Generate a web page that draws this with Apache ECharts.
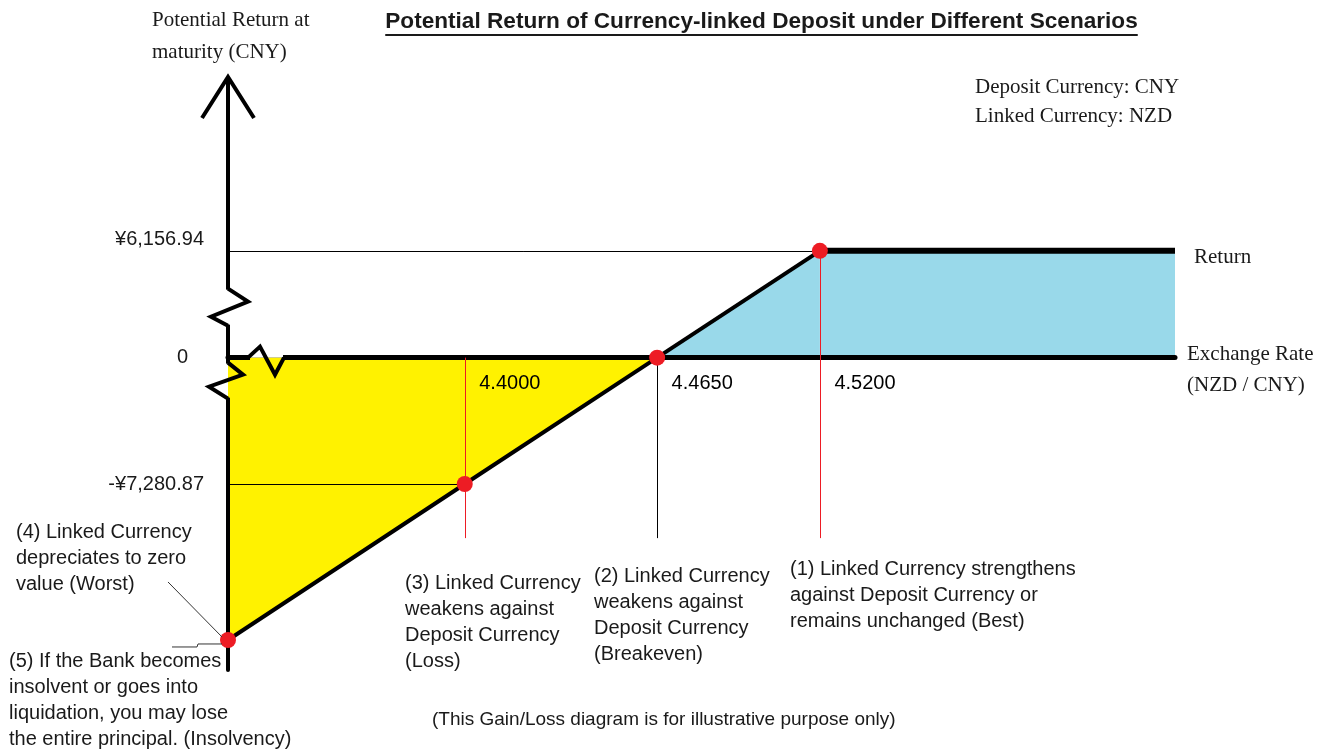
<!DOCTYPE html>
<html>
<head>
<meta charset="UTF-8">
<title>Potential Return of Currency-linked Deposit</title>
<script src="https://cdn.jsdelivr.net/npm/echarts@6.0.0/dist/echarts.min.js"></script>
<style>
  *{margin:0;padding:0;}
  html,body{background:#fff;}
  #main{width:1329px;height:751px;}
</style>
</head>
<body>
<div id="main"></div>
<script>
// exchange rate (NZD/CNY) -> return at maturity (CNY)
var lossRates   = [4.32, 4.40, 4.465];
var lossReturns = [-16270, -7280.87, 0];
var gainRates   = [4.465, 4.52];
var gainReturns = [0, 6156.94];
var capRates    = [4.52, 4.64];
var capReturns  = [6156.94, 6156.94];
// red dots: (1) best, (2) breakeven, (3) loss, (4) worst
var keyRates    = [4.52, 4.465, 4.40, 4.32];
var keyReturns  = [6156.94, 0, -7280.87, -16270];
var rateTicks   = [4.40, 4.465, 4.52];
var returnTicks = [-7280.87, 0, 6156.94];
var rateMin = 4.32, rateMax = 4.64;
var returnMin = -18000, returnMax = 16000;
var guideBottom = -10400;   // where the scenario drop lines end

var SANS = '"Liberation Sans", Arial, sans-serif';
var SERIF = '"Liberation Serif", "Times New Roman", serif';
var RED = '#ED1C24';
var INK = '#1a1a1a';

function zip(xs, ys) {
  var out = [];
  for (var i = 0; i < xs.length; i++) out.push([xs[i], ys[i]]);
  return out;
}

function fmtReturn(v) {
  if (v === 0) return '{zero|0}';
  var s = Math.abs(v).toLocaleString('en-US', {minimumFractionDigits: 2, maximumFractionDigits: 2});
  return v < 0 ? '{low|-¥' + s + '}' : '{up|¥' + s + '}';
}

var thin = {color: '#000', width: 1, type: 'solid'};
var thinRed = {color: RED, width: 1, type: 'solid'};

var chart = echarts.init(document.getElementById('main'));

var option = {
  backgroundColor: '#fff',
  animation: false,
  grid: {left: 228, right: 154, top: 80, bottom: 81, outerBoundsMode: 'none'},
  xAxis: {
    type: 'value', min: rateMin, max: rateMax, z: 3,
    splitLine: {show: false},
    axisTick: {show: false},
    axisLabel: {show: false},
    axisLine: {show: true, onZero: true, lineStyle: {color: '#000', width: 5}}
  },
  yAxis: {
    type: 'value', min: returnMin, max: returnMax, z: 3,
    splitLine: {show: false},
    axisTick: {show: false},
    axisLine: {show: true, onZero: false, lineStyle: {color: '#000', width: 4}},
    axisLabel: {
      customValues: returnTicks,
      formatter: fmtReturn,
      margin: 24,
      fontFamily: SANS, fontSize: 20, color: INK,
      rich: {
        up: {fontFamily: SANS, fontSize: 20, color: INK, padding: [0, 0, 22, 0]},
        low: {fontFamily: SANS, fontSize: 20, color: INK, padding: [0, 0, 0, 0]},
        zero: {fontFamily: SANS, fontSize: 20, color: INK, padding: [0, 16, 0, 0]}
      }
    }
  },
  series: [
    {
      name: 'Loss', type: 'line', z: 2, showSymbol: false, silent: true,
      data: zip(lossRates, lossReturns),
      lineStyle: {color: '#000', width: 4},
      areaStyle: {color: '#FFF200', opacity: 1}
    },
    {
      name: 'Gain', type: 'line', z: 2, showSymbol: false, silent: true,
      data: zip(gainRates, gainReturns),
      lineStyle: {color: '#000', width: 4},
      areaStyle: {color: '#99D9EA', opacity: 1}
    },
    {
      name: 'Return', type: 'line', z: 2, showSymbol: false, silent: true,
      data: zip(capRates, capReturns),
      lineStyle: {color: '#000', width: 6},
      areaStyle: {color: '#99D9EA', opacity: 1}
    },
    {
      name: 'Guides', type: 'line', z: 4, data: [], silent: true,
      markLine: {
        symbol: ['none', 'none'], silent: true, animation: false,
        label: {show: false},
        data: [
          [{coord: [rateMin, returnTicks[2]], lineStyle: thin}, {coord: [rateTicks[2], returnTicks[2]]}],
          [{coord: [rateMin, returnTicks[0]], lineStyle: thin}, {coord: [rateTicks[0], returnTicks[0]]}],
          [{coord: [rateTicks[0], 0], lineStyle: thinRed}, {coord: [rateTicks[0], guideBottom]}],
          [{coord: [rateTicks[1], 0], lineStyle: thin}, {coord: [rateTicks[1], guideBottom]}],
          [{coord: [rateTicks[2], returnTicks[2]], lineStyle: thinRed}, {coord: [rateTicks[2], guideBottom]}]
        ]
      }
    },
    {
      // exchange-rate tick labels, sitting just under the zero line
      name: 'Rate labels', type: 'scatter', z: 6, silent: true,
      symbolSize: 1,
      itemStyle: {color: 'rgba(0,0,0,0)'},
      data: rateTicks.map(function (r) { return [r, 0]; }),
      label: {
        show: true, position: [15, 16], align: 'left', verticalAlign: 'top',
        fontFamily: SANS, fontSize: 20, color: '#000', opacity: 1,
        formatter: function (p) { return p.value[0].toFixed(4); }
      }
    },
    {
      name: 'Scenarios', type: 'scatter', z: 10, silent: true,
      symbolSize: 16,
      itemStyle: {color: RED, opacity: 1},
      data: zip(keyRates, keyReturns)
    }
  ]
};
chart.setOption(option);

// title width measured so the underline fits the text
function textWidth(font, s) {
  var ctx = document.createElement('canvas').getContext('2d');
  ctx.font = font;
  return ctx.measureText(s).width;
}

function txt(text, x, y, font, lh, extra) {
  var st = {text: text, x: x, y: y, font: font, fill: INK, lineHeight: lh, verticalAlign: 'top', align: 'left'};
  if (extra) for (var k in extra) st[k] = extra[k];
  return {type: 'text', z: 30, silent: true, style: st};
}

function zig(points, z) {
  return {type: 'polyline', z: z || 25, silent: true,
    shape: {points: points},
    style: {stroke: '#000', lineWidth: 4, fill: null, lineJoin: 'miter'}};
}

function patch(x, y, w, h, color) {
  return {type: 'rect', z: 22, silent: true, shape: {x: x, y: y, width: w, height: h}, style: {fill: color, stroke: null}};
}

function decorate() {
  var o = chart.convertToPixel({gridIndex: 0}, [rateMin, 0]);
  var X = o[0], Y = o[1];
  var topY = chart.convertToPixel({gridIndex: 0}, [rateMin, returnMax])[1];
  var w = chart.convertToPixel({gridIndex: 0}, [keyRates[3], keyReturns[3]]);

  var titleText = 'Potential Return of Currency-linked Deposit under Different Scenarios';
  var tSize = 20;
  var tw = textWidth('bold ' + tSize + 'px ' + SANS, titleText);
  tSize = Math.min(24, tSize * 753 / tw);
  var tFont = 'bold ' + tSize.toFixed(2) + 'px ' + SANS;
  tw = textWidth(tFont, titleText);
  var tx = 761.5 - tw / 2;

  var g = [
    // title + underline
    txt(titleText, tx, 22, tFont, 24, {verticalAlign: 'middle'}),
    {type: 'line', z: 30, silent: true, shape: {x1: tx, y1: 35, x2: tx + tw, y2: 35}, style: {stroke: INK, lineWidth: 2}},

    // arrow head on the y axis
    zig([[X - 26, topY + 38], [X, topY - 3], [X + 26, topY + 38]], 25),

    // break marks on the y axis (above and below zero)
    patch(X - 3, Y - 68, 6, 35, '#fff'),
    zig([[X, Y - 69], [X + 20, Y - 56], [X - 17, Y - 41], [X, Y - 32]]),
    patch(X - 3, Y + 6, 3, 34, '#fff'),
    patch(X, Y + 6, 3, 34, '#FFF200'),
    zig([[X, Y + 5], [X + 15, Y + 17], [X - 19, Y + 29], [X, Y + 41]]),
    // break mark on the zero line
    patch(X + 22, Y - 3, 33, 3, '#fff'),
    patch(X + 22, Y, 33, 3, '#FFF200'),
    zig([[X + 20, Y], [X + 32, Y - 11], [X + 47, Y + 17], [X + 56, Y]]),

    // axis titles and notes
    txt('Potential Return at\nmaturity (CNY)', 152, 4, '21px ' + SERIF, 32),
    txt('Deposit Currency: CNY\nLinked Currency: NZD', 975, 73, '21px ' + SERIF, 29),
    txt('Return', 1194, 257, '21px ' + SERIF, 24, {verticalAlign: 'middle'}),
    txt('Exchange Rate\n(NZD / CNY)', 1187, 339, '21px ' + SERIF, 31),

    // scenario annotations
    txt('(1) Linked Currency strengthens\nagainst Deposit Currency or\nremains unchanged (Best)', 790, 556, '20px ' + SANS, 26),
    txt('(2) Linked Currency\nweakens against\nDeposit Currency\n(Breakeven)', 594, 563, '20px ' + SANS, 26),
    txt('(3) Linked Currency\nweakens against\nDeposit Currency\n(Loss)', 405, 570, '20px ' + SANS, 26),
    txt('(4) Linked Currency\ndepreciates to zero\nvalue (Worst)', 16, 519, '20px ' + SANS, 26),
    txt('(5) If the Bank becomes\ninsolvent or goes into\nliquidation, you may lose\nthe entire principal. (Insolvency)', 9, 648, '20px ' + SANS, 26),
    txt('(This Gain/Loss diagram is for illustrative purpose only)', 432, 707, '19px ' + SANS, 26),

    // leader lines to the worst-case dot
    {type: 'polyline', z: 30, silent: true, shape: {points: [[w[0] - 60, w[1] - 58], [w[0] - 6, w[1] - 3]]}, style: {stroke: '#333', lineWidth: 1, fill: null}},
    {type: 'polyline', z: 30, silent: true, shape: {points: [[w[0] - 56, w[1] + 7], [w[0] - 31, w[1] + 7], [w[0] - 30, w[1] + 4], [w[0] - 6, w[1] + 4]]}, style: {stroke: '#333', lineWidth: 1, fill: null}}
  ];
  chart.setOption({graphic: g});
}
decorate();
</script>
</body>
</html>
